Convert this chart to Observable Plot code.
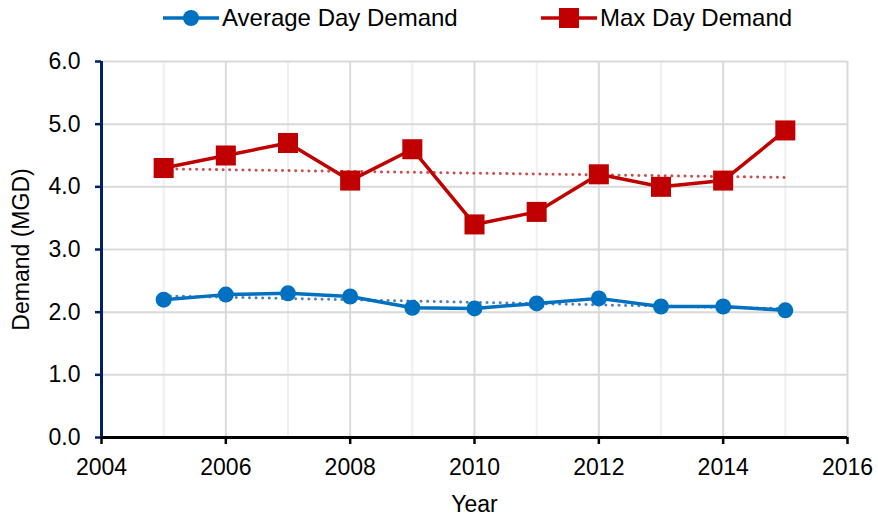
<!DOCTYPE html>
<html>
<head>
<meta charset="utf-8">
<script src="https://cdn.jsdelivr.net/npm/d3@7"></script>
<script src="https://cdn.jsdelivr.net/npm/@observablehq/plot@0.6"></script>
<style>
  html, body { margin: 0; padding: 0; background: #fff; }
  body { width: 878px; height: 518px; overflow: hidden; font-family: "Liberation Sans", Arial, sans-serif; }
  #legend { position: relative; width: 878px; height: 36px; }
  .item { position: absolute; top: 0; height: 36px; display: flex; align-items: center; font-size: 24px; color: #000; }
  .item svg { margin-right: 3px; }
</style>
</head>
<body>
<div id="legend"></div>
<div id="chart"></div>
<script>
const years = [2005, 2006, 2007, 2008, 2009, 2010, 2011, 2012, 2013, 2014, 2015];
const avgDay = [2.20, 2.28, 2.30, 2.25, 2.07, 2.06, 2.14, 2.22, 2.09, 2.09, 2.03];
const maxDay = [4.3, 4.5, 4.7, 4.1, 4.6, 3.4, 3.6, 4.2, 4.0, 4.1, 4.9];
const seriesNames = ["Average Day Demand", "Max Day Demand"];
const xTicks = [2004, 2006, 2008, 2010, 2012, 2014, 2016];
const yTicks = [0, 1, 2, 3, 4, 5, 6];
const minorYears = [2005, 2007, 2009, 2011, 2013, 2015];
const majorYears = [2006, 2008, 2010, 2012, 2014, 2016];

const blue = "#0070C0", red = "#C00000";
const blueTrend = "#4F81BD", redTrend = "#C8504F";

const avgData = years.map((y, i) => ({year: y, value: avgDay[i]}));
const maxData = years.map((y, i) => ({year: y, value: maxDay[i]}));

// legend
const legend = document.getElementById("legend");
function addItem(left, color, shape, label) {
  const d = document.createElement("div");
  d.className = "item";
  d.style.left = left + "px";
  const marker = shape === "circle"
    ? `<circle cx="28" cy="18" r="8" fill="${color}"/>`
    : `<rect x="18" y="8" width="20" height="20" fill="${color}"/>`;
  d.innerHTML = `<svg width="56" height="36"><line x1="0" x2="56" y1="18" y2="18" stroke="${color}" stroke-width="3.5"/>${marker}</svg><span>${label}</span>`;
  legend.appendChild(d);
}
addItem(163, blue, "circle", seriesNames[0]);
addItem(541, red, "square", seriesNames[1]);

const chart = Plot.plot({
  width: 878,
  height: 482,
  marginLeft: 101,
  marginRight: 31,
  marginTop: 25,
  marginBottom: 81,
  style: {fontFamily: "Liberation Sans, Arial, sans-serif", fontSize: "23px", color: "#000", background: "#fff", overflow: "visible"},
  x: {domain: [2004, 2016]},
  y: {domain: [0, 6]},
  marks: [
    Plot.gridX(minorYears, {stroke: "#EFEFEF", strokeOpacity: 1, strokeWidth: 2}),
    Plot.gridX(majorYears, {stroke: "#D9D9D9", strokeOpacity: 1, strokeWidth: 2}),
    Plot.gridY([1, 2, 3, 4, 5, 6], {stroke: "#D9D9D9", strokeOpacity: 1, strokeWidth: 2}),
    Plot.axisY({ticks: yTicks, tickFormat: d3.format(".1f"), tickSize: 6, tickPadding: 15, stroke: "#002060", strokeWidth: 2.5,
      fill: "#000", fontSize: 23, label: "Demand (MGD)", labelAnchor: "center", labelArrow: "none", labelOffset: 89}),
    Plot.axisX({ticks: xTicks, tickFormat: d3.format("d"), tickSize: 7, tickPadding: 14, stroke: "#000", strokeWidth: 2.5,
      fill: "#000", fontSize: 23, label: "Year", labelAnchor: "center", labelArrow: "none", labelOffset: 74}),
    Plot.ruleY([0], {stroke: "#000", strokeWidth: 3}),
    Plot.ruleX([2004], {stroke: "#002060", strokeWidth: 3}),
    Plot.linearRegressionY(maxData, {x: "year", y: "value", ci: 0, stroke: redTrend, strokeWidth: 3, strokeDasharray: "0.1 6.5", strokeLinecap: "round"}),
    Plot.linearRegressionY(avgData, {x: "year", y: "value", ci: 0, stroke: blueTrend, strokeWidth: 3, strokeDasharray: "0.1 6.5", strokeLinecap: "round"}),
    Plot.line(maxData, {x: "year", y: "value", stroke: red, strokeWidth: 3.5}),
    Plot.dot(maxData, {x: "year", y: "value", symbol: "square", r: 11.3, fill: red}),
    Plot.line(avgData, {x: "year", y: "value", stroke: blue, strokeWidth: 3.5}),
    Plot.dot(avgData, {x: "year", y: "value", r: 8, fill: blue})
  ]
});
document.getElementById("chart").appendChild(chart);
</script>
</body>
</html>
